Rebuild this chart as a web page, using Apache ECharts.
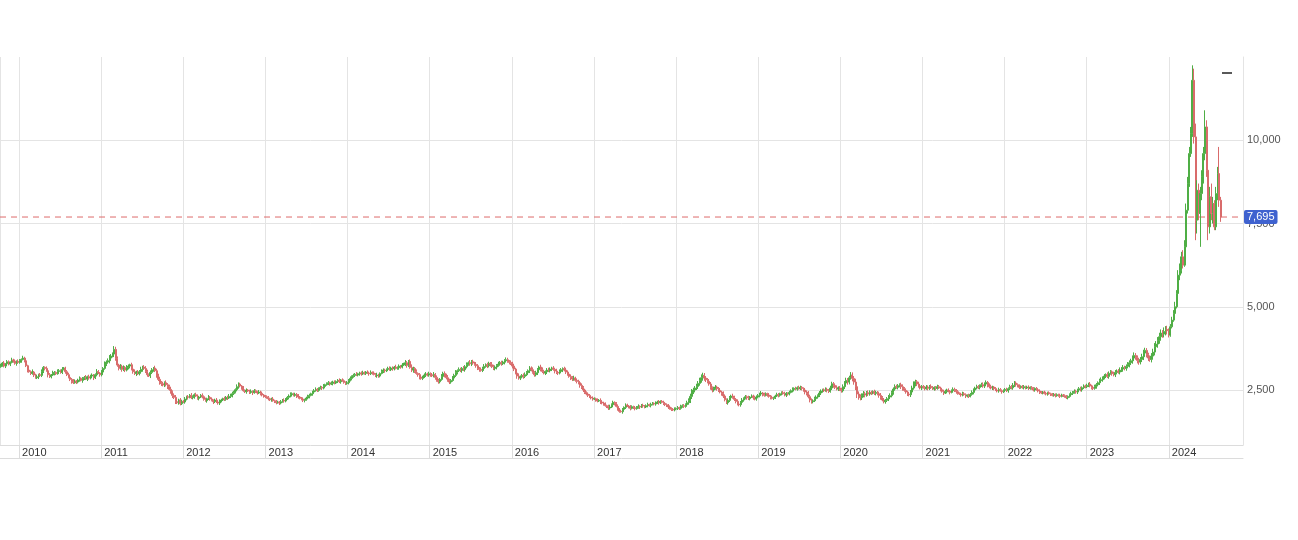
<!DOCTYPE html>
<html><head><meta charset="utf-8">
<script src="https://cdn.jsdelivr.net/npm/echarts@6/dist/echarts.min.js"></script>
<style>html,body{margin:0;padding:0;background:#fff}#c{width:1298px;height:540px}</style>
</head><body><div id="c"></div>
<script>
// Weekly candles (weeks starting Monday), first week begins 2009-10-12.
// Weekly open = prior week's close; highs/lows given as upper/lower wick lengths (2009-2023)
// and as explicit highs/lows for 2024.
const firstWeek = '2009-10-12';
const firstOpen = 3200;
const close2009 = [3250,3310,3220,3290,3350,3280,3330,3400,3370,3300,3360,3330];
const close2010 = [3380,3420,3460,3380,3230,3100,3050,3000,3040,2950,2870,2900,2960,2940,3050,3180,3150,3080,2960,2900,2950,3000,3030,2990,3060,3080,3030,3120,3160,3050,2960,2880,2820,2760,2720,2770,2740,2800,2850,2790,2840,2880,2830,2900,2860,2920,2950,2870,2960,3050,3010,2960];
const close2011 = [3040,3150,3280,3340,3380,3460,3520,3580,3720,3450,3250,3150,3210,3120,3180,3100,3170,3220,3260,3130,3050,3000,3040,2990,3050,3120,3190,3150,3060,2960,2930,3030,3110,3160,3080,2950,2820,2720,2690,2650,2720,2660,2600,2520,2450,2340,2280,2150,2120,2200,2090,2160];
const close2012 = [2140,2230,2300,2280,2340,2270,2310,2360,2320,2250,2290,2340,2300,2220,2180,2240,2280,2230,2190,2150,2200,2140,2110,2170,2200,2240,2220,2280,2260,2310,2350,2390,2430,2510,2600,2680,2620,2560,2480,2450,2500,2470,2430,2460,2420,2480,2450,2410,2440,2400,2350,2320];
const close2013 = [2300,2270,2240,2210,2230,2180,2150,2120,2140,2110,2150,2190,2170,2230,2280,2320,2360,2390,2340,2370,2320,2290,2250,2230,2190,2210,2260,2300,2340,2390,2440,2480,2520,2490,2550,2580,2560,2610,2660,2690,2720,2680,2700,2740,2710,2760,2790,2750,2800,2780,2730,2700];
const close2014 = [2720,2790,2850,2910,2940,2970,2950,2990,3010,2980,3020,3000,3040,3010,2990,3030,3010,2970,2930,2950,2920,3000,3060,3100,3080,3120,3150,3110,3160,3140,3190,3150,3170,3220,3190,3250,3280,3320,3240,3360,3180,3100,3150,3060,3000,2960,2890,2850,2890,2950,2980,2950];
const close2015 = [2990,2960,2930,2970,2880,2790,2750,2820,2910,3000,2950,2870,2790,2740,2790,2860,2940,3030,3080,3120,3090,3150,3110,3200,3270,3320,3290,3350,3310,3270,3230,3150,3120,3090,3150,3210,3260,3230,3300,3260,3200,3150,3190,3240,3280,3320,3290,3340,3380,3410,3360,3330];
const close2016 = [3300,3220,3130,3010,2920,2860,2890,2940,2910,2960,3020,3080,3160,3110,3030,2960,3020,3110,3190,3120,3060,3010,3050,3100,3080,3130,3160,3120,3070,3030,3010,3060,3110,3140,3100,3040,2980,2910,2870,2830,2860,2790,2760,2720,2640,2570,2500,2430,2380,2340,2290,2260,2230];
const close2017 = [2240,2200,2170,2190,2140,2110,2080,2030,2000,1960,1990,2060,2130,2100,2010,1930,1860,1850,1920,1980,2050,2020,1990,1950,2000,1970,1940,1980,2010,1990,2040,2020,1990,2030,2060,2040,2070,2100,2080,2110,2140,2120,2160,2130,2100,2060,2020,1990,1950,1920,1900,1930];
const close2018 = [1940,1970,1950,2000,2030,2010,2060,2120,2180,2310,2440,2500,2560,2610,2700,2780,2870,2940,2860,2810,2760,2680,2570,2500,2550,2590,2540,2490,2440,2400,2320,2210,2120,2190,2270,2320,2280,2220,2160,2080,2060,2130,2200,2250,2300,2270,2240,2290,2320,2270,2230,2290];
const close2019 = [2330,2380,2410,2370,2340,2390,2350,2310,2280,2250,2270,2320,2360,2340,2390,2420,2390,2350,2400,2380,2430,2480,2520,2550,2530,2570,2540,2580,2550,2500,2440,2400,2300,2200,2150,2180,2240,2290,2330,2410,2470,2510,2480,2520,2490,2460,2560,2690,2640,2580,2530,2560];
const close2020 = [2520,2480,2600,2710,2790,2740,2870,2950,2850,2740,2600,2380,2300,2270,2340,2390,2350,2420,2380,2430,2410,2450,2400,2430,2390,2340,2270,2200,2150,2190,2240,2290,2330,2420,2530,2600,2580,2630,2660,2600,2540,2490,2440,2380,2360,2440,2560,2680,2750,2680,2620,2560,2600];
const close2021 = [2580,2540,2590,2550,2610,2570,2530,2580,2550,2600,2560,2510,2460,2410,2450,2500,2470,2430,2480,2520,2490,2450,2400,2380,2350,2390,2360,2320,2340,2310,2370,2430,2500,2560,2600,2580,2630,2660,2620,2680,2730,2650,2600,2560,2590,2540,2500,2470,2510,2480,2450,2490];
const close2022 = [2520,2480,2540,2600,2570,2640,2710,2660,2620,2580,2610,2570,2600,2560,2590,2550,2580,2540,2500,2550,2510,2470,2430,2410,2440,2400,2380,2420,2390,2360,2340,2370,2330,2360,2340,2310,2350,2330,2300,2270,2310,2360,2400,2430,2460,2440,2500,2540,2510,2570,2620,2600];
const close2023 = [2640,2680,2620,2580,2550,2600,2660,2720,2780,2810,2860,2920,2960,2910,3000,3050,2990,2960,3030,3070,3040,3100,3130,3180,3150,3210,3260,3320,3380,3460,3540,3480,3390,3340,3420,3500,3610,3690,3560,3460,3420,3520,3640,3800,3880,3990,4100,4210,4180,4260,4320,4280];
const close2024 = [4150,4400,4600,4800,5000,5400,5950,6100,6500,6250,6800,7900,8700,9600,10200,11800,10100,7600,8500,7800,8400,8900,9600,10400,9100,7400,8300,7800,8100,7400,8400,9000,8200,7695];
const high2024 = [4350,4480,4700,4900,5150,5500,6100,6300,6650,6700,7000,8100,8900,9800,10400,12250,12150,10500,8800,8700,8600,9100,9800,10900,10600,9400,8600,8700,8300,8200,8600,9200,9800,8300];
const low2024 = [4080,4100,4350,4550,4750,4950,5350,5800,6000,6150,6200,6750,7800,8600,9500,10100,9900,7000,7200,7600,6800,8200,8700,9400,8900,7000,7200,7600,7500,7300,7300,8200,8000,7550];

const wickUp2009 = [40,30,60,20,50,40,30,70,40,50,30,60];
const wickDn2009 = [30,50,40,60,30,40,60,30,50,40,70,30];
const wickUp2010 = [50,30,70,40,60,30,50,40,80,30,40,60,30,50,70,40,30,60,40,50,30,80,40,30,60,50,40,70,30,40,50,60,30,40,70,50,30,40,60,30,50,40,70,30,60,40,50,30,40,80,50,30];
const wickDn2010 = [40,60,30,50,40,70,30,50,40,60,30,40,70,30,50,40,60,30,80,40,50,30,60,40,30,70,40,50,30,60,40,30,50,70,40,30,60,40,50,30,70,40,30,60,50,40,30,70,40,50,30,60];
const wickUp2011 = [60,40,80,50,70,90,60,50,100,80,60,40,70,50,60,40,80,50,30,60,50,70,40,60,50,80,40,60,70,50,40,60,50,30,70,60,40,80,50,60,40,70,50,60,80,40,60,70,50,40,60,50];
const wickDn2011 = [50,70,40,60,50,80,60,40,90,70,50,60,40,70,50,60,40,50,70,40,60,50,80,40,50,60,70,40,50,60,40,70,50,60,40,80,50,60,70,40,60,50,70,40,60,80,50,70,40,60,50,40];
const wickUp2012 = [40,60,30,50,40,70,30,40,60,50,30,40,60,40,50,30,70,40,50,30,40,60,30,50,40,30,60,40,50,70,40,60,50,40,70,50,40,30,60,40,50,30,40,60,30,50,40,30,60,40,50,30];
const wickDn2012 = [30,50,40,60,30,40,50,70,30,40,60,30,50,40,30,60,40,50,30,70,40,30,50,60,40,30,50,40,60,30,50,70,40,30,50,60,40,50,30,40,60,30,50,40,70,30,40,50,30,60,40,50];
const wickUp2013 = [30,40,50,30,40,60,30,50,40,30,50,40,60,30,40,50,70,40,30,50,40,60,30,40,50,30,40,60,50,30,40,50,60,40,30,50,40,70,30,40,50,30,60,40,50,30,40,60,30,50,40,30];
const wickDn2013 = [40,30,50,40,60,30,40,50,30,60,40,30,50,40,30,60,40,50,30,40,60,50,30,40,50,60,30,40,50,30,60,40,30,50,40,30,60,40,50,30,40,50,30,60,40,30,50,40,60,30,40,50];
const wickUp2014 = [50,40,60,30,50,40,70,30,40,50,60,40,30,50,40,60,30,50,40,70,40,30,60,50,40,30,50,60,40,50,30,70,40,50,30,60,40,80,50,40,60,90,50,40,60,30,50,70,40,50,60,40];
const wickDn2014 = [40,50,30,60,40,50,30,40,60,50,30,40,50,30,60,40,50,30,40,60,50,40,30,50,60,40,50,30,40,60,50,30,40,60,50,40,30,60,70,50,40,60,80,50,40,60,70,40,50,30,60,40];
const wickUp2015 = [60,40,50,70,40,60,50,40,70,50,60,40,80,50,40,60,50,70,40,60,50,40,70,50,60,40,80,50,60,40,70,50,40,60,50,70,40,60,50,40,80,60,50,40,70,50,60,40,50,70,60,40];
const wickDn2015 = [50,60,40,50,70,40,60,50,40,60,70,50,40,60,50,40,70,50,60,40,50,70,40,60,50,40,60,70,50,40,60,50,70,40,50,60,40,70,50,60,40,50,60,70,40,50,60,40,70,50,40,60];
const wickUp2016 = [60,50,70,40,60,80,50,40,60,70,50,40,60,50,70,40,60,50,40,70,60,50,40,60,70,50,40,60,50,70,40,60,50,40,60,70,50,40,60,50,70,40,60,50,40,60,50,40,30,50,40,30,50];
const wickDn2016 = [50,70,60,40,80,50,60,40,70,50,40,60,70,50,40,60,50,70,40,60,50,40,60,70,40,50,60,40,70,50,60,40,50,70,40,60,50,40,70,60,50,40,60,50,70,40,60,50,40,50,30,40,50];
const wickUp2017 = [40,30,50,40,60,30,40,50,30,60,70,40,50,30,40,60,30,50,40,30,50,40,30,60,40,30,50,40,60,30,40,50,30,40,60,30,50,40,30,50,40,60,30,40,50,30,40,60,50,30,40,50];
const wickDn2017 = [30,50,40,30,60,40,50,30,40,60,50,30,40,60,30,50,40,30,60,40,50,30,40,60,30,40,50,30,40,60,30,50,40,30,50,40,60,30,40,50,30,60,40,30,50,40,30,60,40,50,30,40];
const wickUp2018 = [40,50,30,60,40,50,40,60,70,80,90,70,60,80,70,90,100,80,70,60,50,70,60,40,50,60,40,50,70,40,60,50,40,60,50,40,70,50,40,60,50,40,60,30,50,40,60,30,50,40,60,50];
const wickDn2018 = [30,40,50,40,30,50,40,50,60,70,80,60,70,60,80,70,60,90,80,70,60,50,60,70,50,40,60,50,40,70,60,50,40,60,50,70,40,50,60,40,50,60,40,50,30,60,40,50,30,60,40,50];
const wickUp2019 = [50,40,60,30,50,40,30,60,40,50,30,40,60,50,30,40,50,60,40,30,50,40,60,30,50,40,60,50,40,30,60,50,70,60,50,40,60,50,40,60,50,30,40,60,50,40,70,60,50,40,60,50];
const wickDn2019 = [40,50,30,60,40,30,50,40,60,30,50,40,30,60,40,50,30,40,60,50,40,30,50,60,40,50,30,40,60,50,70,60,50,70,60,50,40,60,50,40,60,50,40,30,60,50,40,60,70,50,40,60];
const wickUp2020 = [60,50,70,60,80,70,60,90,80,70,100,90,80,70,60,80,60,50,70,60,50,40,60,50,40,60,70,50,60,40,50,60,70,60,50,70,60,50,40,60,70,50,60,40,50,60,70,80,60,50,70,60,50];
const wickDn2020 = [50,60,50,70,60,80,70,60,90,80,100,120,90,80,70,60,70,50,60,50,60,40,50,60,50,70,60,40,50,60,50,70,60,50,60,50,40,60,50,70,60,40,50,60,50,70,60,50,70,60,50,40,60];
const wickUp2021 = [50,40,60,50,40,60,50,30,40,60,50,40,30,50,60,40,50,30,40,60,50,40,50,30,40,60,50,40,30,50,40,60,50,40,60,50,40,60,70,50,60,40,50,60,40,30,50,40,60,50,40,30];
const wickDn2021 = [40,50,30,60,50,40,30,50,60,40,30,50,40,60,30,50,40,60,30,40,50,60,40,30,50,40,30,60,40,50,30,40,60,50,40,50,60,40,50,60,40,70,50,40,60,50,30,40,50,30,60,40];
const wickUp2022 = [40,50,40,60,50,70,60,50,40,50,30,40,50,30,40,50,30,40,50,30,40,30,50,40,30,40,50,30,40,30,50,40,30,40,30,50,40,30,40,50,30,40,50,40,60,50,40,50,60,40,50,40];
const wickDn2022 = [50,40,60,40,50,60,50,60,40,50,40,30,50,40,30,50,40,30,40,50,30,40,50,30,40,30,40,50,30,40,30,40,50,30,40,50,30,40,30,40,50,40,30,50,40,50,60,40,50,60,40,50];
const wickUp2023 = [50,40,60,40,50,60,50,40,60,70,50,60,40,70,60,50,40,60,70,50,60,80,60,70,50,60,80,70,60,80,90,70,60,80,70,90,100,80,70,60,80,90,100,110,90,100,120,110,90,120,100,110];
const wickDn2023 = [40,50,40,60,50,40,60,50,70,50,60,40,60,50,70,40,60,50,70,60,50,70,60,80,60,70,60,80,70,90,80,70,90,80,70,80,100,90,80,90,70,90,110,100,90,110,100,120,110,100,120,110];
const yTickValues = [2500, 5000, 7500, 10000];

const WEEK = 7 * 24 * 3600 * 1000;
const t0 = Date.parse(firstWeek + 'T00:00:00Z');
const closes = [].concat(close2009, close2010, close2011, close2012, close2013, close2014, close2015,
  close2016, close2017, close2018, close2019, close2020, close2021, close2022, close2023, close2024);
const wickUp = [].concat(wickUp2009, wickUp2010, wickUp2011, wickUp2012, wickUp2013, wickUp2014, wickUp2015,
  wickUp2016, wickUp2017, wickUp2018, wickUp2019, wickUp2020, wickUp2021, wickUp2022, wickUp2023);
const wickDn = [].concat(wickDn2009, wickDn2010, wickDn2011, wickDn2012, wickDn2013, wickDn2014, wickDn2015,
  wickDn2016, wickDn2017, wickDn2018, wickDn2019, wickDn2020, wickDn2021, wickDn2022, wickDn2023);
const start2024 = closes.length - close2024.length;
const candles = closes.map((c, i) => {
  const o = i === 0 ? firstOpen : closes[i - 1];
  const k = i - start2024;
  const h = k >= 0 ? high2024[k] : Math.max(o, c) + (wickUp[i] || 0);
  const l = k >= 0 ? low2024[k] : Math.min(o, c) - (wickDn[i] || 0);
  return [t0 + i * WEEK, o, c, l, h];
});
const lastPrice = closes[closes.length - 1];
const xMin = Date.UTC(2009, 9, 8);
const xMax = Date.UTC(2024, 10, 26);
const fmt = v => Number(v).toLocaleString('en-US');
const lineRed = '#dd6a6a';

const chart = echarts.init(document.getElementById('c'));
chart.setOption({
  useUTC: true,
  animation: false,
  backgroundColor: '#ffffff',
  grid: { left: 0, right: 55, top: 57, bottom: 95 },
  xAxis: [{
    type: 'time', min: xMin, max: xMax, splitNumber: 15,
    axisLine: { show: true, lineStyle: { color: '#dcdcdc' } },
    axisTick: { show: true, length: 13, lineStyle: { color: '#dcdcdc' } },
    axisLabel: {
      formatter: v => String(new Date(v).getUTCFullYear()),
      align: 'left', margin: 2, padding: [0, 0, 0, 3], color: '#333', fontSize: 11,
      fontFamily: 'Arial, Liberation Sans, sans-serif',
      showMinLabel: false, showMaxLabel: false
    },
    splitLine: { show: true, lineStyle: { color: '#e4e4e4' } }
  }, {
    type: 'time', min: xMin, max: xMax, position: 'bottom', offset: 13,
    axisLine: { show: true, lineStyle: { color: '#dcdcdc' } },
    axisTick: { show: false }, axisLabel: { show: false }, splitLine: { show: false }
  }],
  yAxis: {
    type: 'value', position: 'right', min: 850, max: 12500, scale: true,
    axisLine: { show: true, lineStyle: { color: '#e4e4e4' } },
    axisTick: { show: false, customValues: yTickValues },
    axisLabel: { customValues: yTickValues, formatter: fmt, color: '#555', fontSize: 11, margin: 4,
      fontFamily: 'Arial, Liberation Sans, sans-serif' },
    splitLine: { show: true, lineStyle: { color: '#e4e4e4' } }
  },
  series: [{
    type: 'line', xAxisIndex: 0, silent: true, z: 1,
    data: [[xMin, lastPrice], [xMax, lastPrice]],
    symbol: 'none', showSymbol: false,
    lineStyle: { color: lineRed, type: [6, 5], width: 1 },
    itemStyle: { color: lineRed },
    endLabel: { show: true, formatter: () => fmt(lastPrice), color: '#fff', backgroundColor: '#3f62cf',
      padding: [2, 3, 1, 3], fontSize: 11, distance: 1, borderRadius: 2,
      fontFamily: 'Arial, Liberation Sans, sans-serif' }
  }, {
    type: 'candlestick', xAxisIndex: 0, large: false, barWidth: 1.5, z: 2,
    data: candles,
    itemStyle: { color: '#4fae45', color0: '#d96b6b', borderColor: '#4fae45', borderColor0: '#d96b6b', borderWidth: 1 }
  }],
  graphic: [{ type: 'line', shape: { x1: 1222, y1: 73, x2: 1232, y2: 73 }, style: { stroke: '#222', lineWidth: 1.5 } }]
});
</script></body></html>
